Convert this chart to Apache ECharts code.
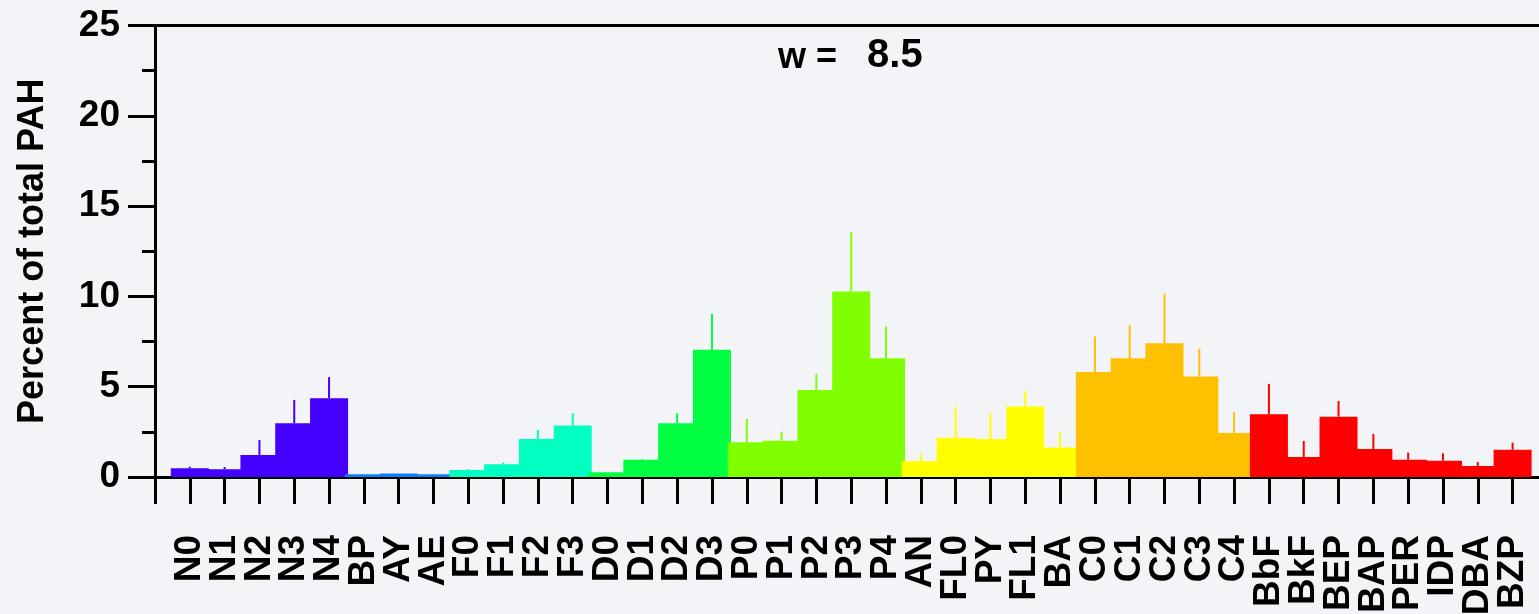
<!DOCTYPE html>
<html>
<head>
<meta charset="utf-8">
<script src="https://cdn.jsdelivr.net/npm/echarts@6/dist/echarts.min.js"></script>
<style>
  html,body{margin:0;padding:0;background:#f3f4f8;}
  #chart{width:1539px;height:614px;}
</style>
</head>
<body>
<div id="chart"></div>
<script>
// PAH compounds along the x axis
var categories=['N0','N1','N2','N3','N4','BP','AY','AE','F0','F1','F2','F3','D0','D1','D2','D3',
    'P0','P1','P2','P3','P4','AN','FL0','PY','FL1','BA','C0','C1','C2','C3','C4',
    'BbF','BkF','BEP','BAP','PER','IDP','DBA','BZP'];

// percent of total PAH (bar height)
var percent=[0.48,0.43,1.22,2.98,4.36, 0.15,0.20,0.15, 0.39,0.70,2.10,2.85, 0.26,0.96,2.98,7.04,
    1.92,2.01,4.82,10.27,6.58, 0.89,2.18,2.10,3.90,1.63, 5.82,6.58,7.41,5.56,2.44,
    3.48,1.11,3.34,1.55,0.96,0.90,0.61,1.51];

// top of the error bar
var upperError=[0.57,0.55,2.05,4.27,5.53, 0.15,0.20,0.15, 0.44,0.80,2.60,3.53, 0.26,1.01,3.53,9.04,
    3.21,2.51,5.71,13.58,8.33, 1.27,3.90,3.53,4.77,2.51, 7.78,8.39,10.14,7.10,3.60,
    5.16,2.00,4.21,2.38,1.35,1.31,0.83,1.90];

var yTicks=[0,5,10,15,20,25];
var titleLabel='w =   ';
var titleValue='8.5';

// colour of each compound group (count, colour)
var groupColors=[[5,'#4400ff'],[3,'#0a80ff'],[4,'#00ffc0'],[4,'#00ff40'],[5,'#80ff00'],
    [5,'#ffff00'],[5,'#ffc000'],[8,'#ff0000']];
var barColors=[];
groupColors.forEach(function(g){
    for(var k=0;k<g[0];k++) barColors.push(g[1]);
});

// empty slot before and after so ticks sit like the original
var xCats=[''].concat(categories,['']);
var barData=['-'];
var errData=[];
for(var i=0;i<categories.length;i++){
    barData.push({value:percent[i],itemStyle:{color:barColors[i]}});
    errData.push([i+1,percent[i],upperError[i],i]);
}
barData.push('-');

var font='"Liberation Sans", Arial, Helvetica, sans-serif';
var myChart=echarts.init(document.getElementById('chart'),null,{renderer:'canvas'});

var option={
    backgroundColor:'#f3f4f8',
    animation:false,
    grid:{left:155,top:25.5,width:1392.4,height:451.5,containLabel:false,outerBoundsMode:'none'},
    graphic:[{
        type:'text',left:778,top:36,
        style:{
            text:'{a|'+titleLabel+'}{b|'+titleValue+'}',
            rich:{
                a:{font:'bold 36px '+font,fill:'#000',verticalAlign:'bottom'},
                b:{font:'bold 40px '+font,fill:'#000',verticalAlign:'bottom'}
            }
        }
    }],
    xAxis:[{
        type:'category',
        data:xCats,
        boundaryGap:false,
        axisLine:{lineStyle:{color:'#000',width:3}},
        axisTick:{length:27,lineStyle:{color:'#000',width:3}},
        axisLabel:{
            rotate:90,margin:58,interval:0,
            color:'#000',fontSize:37,fontWeight:'bold',fontFamily:font
        },
        splitLine:{show:false}
    },{
        type:'category',
        data:xCats,
        position:'top',
        boundaryGap:false,
        axisLine:{lineStyle:{color:'#000',width:3}},
        axisTick:{show:false},
        axisLabel:{show:false}
    }],
    yAxis:{
        type:'value',
        min:yTicks[0],max:yTicks[yTicks.length-1],interval:5,
        name:'Percent of total PAH',
        nameLocation:'middle',
        nameGap:104,
        nameTextStyle:{color:'#000',fontSize:36,fontWeight:'bold',fontFamily:font},
        axisLine:{show:true,lineStyle:{color:'#000',width:3}},
        axisTick:{show:true,length:27,lineStyle:{color:'#000',width:3}},
        minorTick:{show:true,splitNumber:2,length:13,lineStyle:{color:'#000',width:3}},
        axisLabel:{margin:35,color:'#000',fontSize:37,fontWeight:'bold',fontFamily:font},
        splitLine:{show:false}
    },
    series:[{
        type:'bar',
        data:barData,
        barWidth:38,
        z:3
    },{
        type:'custom',
        data:errData,
        z:4,
        renderItem:function(params,api){
            var p0=api.coord([api.value(0),api.value(1)]);
            var p1=api.coord([api.value(0),api.value(2)]);
            return {
                type:'line',
                shape:{x1:p0[0],y1:p0[1],x2:p1[0],y2:p1[1]},
                style:{stroke:barColors[api.value(3)],lineWidth:2}
            };
        }
    }]
};

myChart.setOption(option);
</script>
</body>
</html>
